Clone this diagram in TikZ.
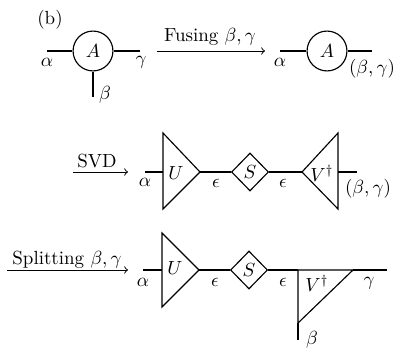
\documentclass[tikz,border=0pt]{standalone}
\usetikzlibrary{shapes.geometric}
\begin{document}
\begin{tikzpicture}[x=0.5265pt,y=-0.5265pt,
  leg/.style={line width=0.6pt},
  tens/.style={circle,draw,line width=0.6pt,minimum size=21pt,inner sep=0pt},
  dia/.style={diamond,draw,line width=0.6pt,minimum width=19.5pt,minimum height=20pt,inner sep=0pt},
  lab/.style={inner sep=0pt},
  op/.style={line width=0.5pt,->}]
\useasboundingbox (0,0) rectangle (397,351);
\node[lab] (b) at (50,20) {(b)};
% ---------- row 1
\node[tens] (A1) at (93,51) {$A$};
\coordinate (a1) at (47,51);
\coordinate (g1) at (140,51);
\coordinate (b1) at (93,97);
\draw[leg] (a1) -- (A1) (A1) -- (g1) (A1) -- (b1);
\node[lab] (la1) at (47,62) {$\alpha$};
\node[lab] (lg1) at (141,62) {$\gamma$};
\node[lab] (lb1) at (105,95) {$\beta$};
\coordinate (f0) at (157,51);
\coordinate (f1) at (265,51);
\draw[op] (f0) -- (f1);
\node[lab,anchor=base] (lf) at (210,42) {Fusing $\beta,\gamma$};
\node[tens] (A2) at (327,51) {$A$};
\coordinate (a2) at (280,51);
\coordinate (g2) at (372,51);
\draw[leg] (a2) -- (A2) (A2) -- (g2);
\node[lab] (la2) at (280,62) {$\alpha$};
\node[lab] (lbg2) at (372,69) {$(\beta,\gamma)$};
% ---------- row 2
\coordinate (s0) at (73,172);
\coordinate (s1) at (128,172);
\draw[op] (s0) -- (s1);
\node[lab,anchor=base] (ls) at (97,168) {SVD};
\coordinate (u2a) at (163,133);
\coordinate (u2b) at (163,209);
\coordinate (u2c) at (200,172);
\coordinate (u2l) at (163,172);
\coordinate (a3) at (145,172);
\draw[leg,line join=miter] (u2a) -- (u2c) -- (u2b) -- cycle;
\draw[leg] (a3) -- (u2l);
\node[lab] (U2) at (176,173) {$U$};
\node[dia] (S2) at (250,172) {$S$};
\coordinate (v2a) at (338,133);
\coordinate (v2b) at (338,209);
\coordinate (v2c) at (302,172);
\coordinate (v2r) at (338,172);
\coordinate (bg3) at (357,172);
\draw[leg,line join=miter] (v2a) -- (v2c) -- (v2b) -- cycle;
\draw[leg] (u2c) -- (S2.west) (S2.east) -- (v2c) (v2r) -- (bg3);
\node[lab] (V2) at (322,173) {$V^\dagger$};
\node[lab] (la3) at (145,182) {$\alpha$};
\node[lab] (le1) at (216,183) {$\epsilon$};
\node[lab] (le2) at (283,183) {$\epsilon$};
\node[lab] (lbg3) at (368,189) {$(\beta,\gamma)$};
% ---------- row 3
\coordinate (p0) at (7,270);
\coordinate (p1) at (128,270);
\draw[op] (p0) -- (p1);
\node[lab,anchor=base] (lp) at (67,265) {Splitting $\beta,\gamma$};
\coordinate (u3a) at (162,233);
\coordinate (u3b) at (162,307);
\coordinate (u3c) at (199,270);
\coordinate (u3l) at (162,270);
\coordinate (a4) at (143,270);
\draw[leg,line join=miter] (u3a) -- (u3c) -- (u3b) -- cycle;
\draw[leg] (a4) -- (u3l);
\node[lab] (U3) at (175,268) {$U$};
\node[dia] (S3) at (249,270) {$S$};
\coordinate (v3a) at (298,270);
\coordinate (v3b) at (353,270);
\coordinate (v3c) at (298,323);
\coordinate (g4) at (387,270);
\coordinate (b4) at (298,340);
\draw[leg,line join=miter] (v3a) -- (v3b) -- (v3c) -- cycle;
\draw[leg] (u3c) -- (S3.west) (S3.east) -- (v3a) (v3b) -- (g4) (v3c) -- (b4);
\node[lab] (V3) at (317,283) {$V^\dagger$};
\node[lab] (la4) at (143,282) {$\alpha$};
\node[lab] (le3) at (215,282) {$\epsilon$};
\node[lab] (le4) at (283,282) {$\epsilon$};
\node[lab] (lg4) at (369,283) {$\gamma$};
\node[lab] (lb4) at (312,340) {$\beta$};
\end{tikzpicture}
\end{document}
